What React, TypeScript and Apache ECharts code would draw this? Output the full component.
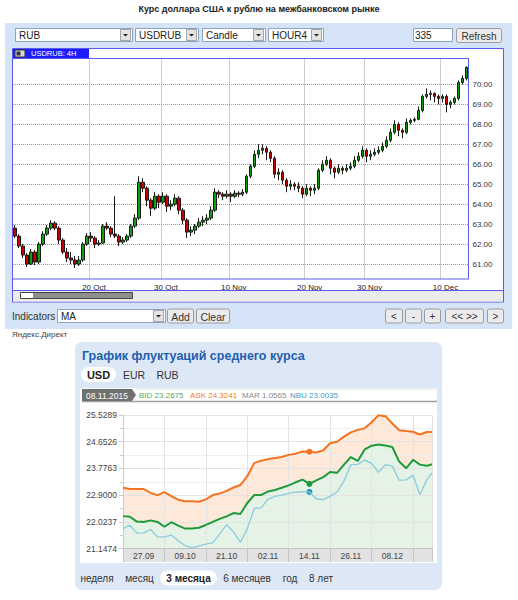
import React, { useEffect, useRef } from 'react';
import * as echarts from 'echarts';

// ---------- Top chart: USDRUB 4H candles ----------
const candleOpen = [
  62.8, 62.4, 61.9, 61.45, 61.0, 61.6, 61.1, 62.0, 62.5, 62.8,
  63.05, 62.8, 62.2, 61.6, 61.3, 61.2, 61.0, 61.2, 62.0, 62.4,
  62.3, 62.0, 62.05, 62.9, 62.8, 62.5, 62.4, 62.1, 62.2, 62.4,
  62.9, 63.3, 65.1, 64.8, 64.2, 63.8, 64.4, 64.1, 64.4, 63.9,
  64.0, 64.3, 63.7, 63.2, 62.6, 62.7, 62.9, 63.1, 63.2, 63.3,
  63.7, 64.6, 64.5, 64.4, 64.5, 64.4, 64.55, 64.5, 64.6, 65.4,
  65.9, 66.5, 66.7, 66.8, 66.6, 66.3, 65.5, 65.6, 65.2, 64.9,
  65.0, 64.9, 64.8, 64.5, 64.8, 64.7, 64.8, 65.7, 66.0, 66.2,
  65.8, 65.6, 65.8, 65.7, 65.8, 65.9, 66.2, 66.4, 66.7, 66.4,
  66.5, 66.6, 66.7, 66.9, 67.2, 67.6, 68.0, 67.7, 67.6, 68.1,
  68.2, 68.25, 68.7, 69.4, 69.5, 69.55, 69.4, 69.3, 69.4, 69.0,
  69.1, 69.3, 70.1, 70.3,
];
const candleClose = [
  62.4, 61.9, 61.45, 61.0, 61.6, 61.1, 62.0, 62.5, 62.8, 63.05,
  62.8, 62.2, 61.6, 61.3, 61.2, 61.0, 61.2, 62.0, 62.4, 62.3,
  62.0, 62.05, 62.9, 62.8, 62.5, 62.4, 62.1, 62.2, 62.4, 62.9,
  63.3, 65.1, 64.8, 64.2, 63.8, 64.4, 64.1, 64.4, 63.9, 64.0,
  64.3, 63.7, 63.2, 62.6, 62.7, 62.9, 63.1, 63.2, 63.3, 63.7,
  64.6, 64.5, 64.4, 64.5, 64.4, 64.55, 64.5, 64.6, 65.4, 65.9,
  66.5, 66.7, 66.8, 66.6, 66.3, 65.5, 65.6, 65.2, 64.9, 65.0,
  64.9, 64.8, 64.5, 64.8, 64.7, 64.8, 65.7, 66.0, 66.2, 65.8,
  65.6, 65.8, 65.7, 65.8, 65.9, 66.2, 66.4, 66.7, 66.4, 66.5,
  66.6, 66.7, 66.9, 67.2, 67.6, 68.0, 67.7, 67.6, 68.1, 68.2,
  68.25, 68.7, 69.4, 69.5, 69.55, 69.4, 69.3, 69.4, 69.0, 69.1,
  69.3, 70.1, 70.3, 70.86,
];
const candleHigh = [
  62.95, 62.5, 62.0, 61.55, 61.75, 61.7, 62.1, 62.65, 62.95, 63.2,
  63.15, 62.9, 62.3, 61.8, 61.6, 61.4, 61.4, 62.1, 62.55, 62.6,
  62.4, 62.2, 63.0, 63.1, 62.9, 64.4, 62.5, 62.35, 62.5, 63.0,
  63.5, 65.4, 65.3, 64.9, 64.3, 64.6, 64.5, 64.6, 64.5, 64.2,
  64.5, 64.4, 63.8, 63.3, 62.9, 63.0, 63.3, 63.4, 63.5, 63.9,
  64.8, 64.7, 64.6, 64.7, 64.6, 64.7, 64.65, 64.75, 65.5, 66.0,
  66.7, 67.0, 67.0, 66.9, 66.7, 66.4, 65.8, 65.7, 65.3, 65.2,
  65.1, 65.1, 64.9, 65.0, 64.9, 65.0, 65.8, 66.2, 66.4, 66.3,
  65.9, 66.0, 65.9, 66.0, 66.1, 66.4, 66.6, 66.9, 66.8, 66.7,
  66.8, 66.9, 67.1, 67.4, 67.8, 68.2, 68.1, 67.8, 68.3, 68.3,
  68.35, 68.9, 69.5, 69.8, 69.7, 69.6, 69.5, 69.5, 69.5, 69.2,
  69.4, 70.2, 70.45, 70.9,
];
const candleLow = [
  62.3, 61.8, 61.3, 60.85, 60.95, 60.95, 61.0, 61.9, 62.4, 62.7,
  62.7, 62.0, 61.5, 61.1, 61.0, 60.8, 60.9, 61.1, 61.9, 62.1,
  61.8, 61.9, 62.0, 62.7, 62.35, 62.3, 61.9, 62.0, 62.1, 62.3,
  62.8, 63.2, 64.6, 63.9, 63.4, 63.7, 63.8, 64.0, 63.6, 63.7,
  63.9, 63.5, 63.0, 62.3, 62.4, 62.5, 62.8, 62.9, 63.0, 63.2,
  63.6, 64.3, 64.2, 64.3, 64.1, 64.3, 64.35, 64.4, 64.5, 65.3,
  65.8, 66.3, 66.5, 66.2, 66.1, 65.3, 65.2, 65.0, 64.6, 64.7,
  64.7, 64.6, 64.3, 64.4, 64.4, 64.5, 64.7, 65.6, 65.9, 65.5,
  65.3, 65.5, 65.5, 65.6, 65.7, 65.8, 66.1, 66.3, 66.1, 66.2,
  66.4, 66.5, 66.6, 66.8, 67.1, 67.5, 67.4, 67.3, 67.5, 68.0,
  68.1, 68.2, 68.6, 69.3, 69.2, 69.1, 69.0, 69.1, 68.6, 68.8,
  69.0, 69.2, 70.0, 70.2,
];
const candleDateLabels = ['20 Oct', '30 Oct', '10 Nov', '20 Nov', '30 Nov', '10 Dec'];
const candleDateIndex = [19, 37, 54, 73, 88, 107];
const candleYTicks = [61, 62, 63, 64, 65, 66, 67, 68, 69, 70];
const lastPrice = 70.86;

// ---------- Bottom chart: fluctuation of average rate ----------
const fluctDays = [0, 2, 4, 6, 8, 10, 12, 14, 16, 18, 20, 22, 24, 26, 28, 30, 32, 34, 36, 38,
  40, 42, 44, 46, 48, 50, 52, 54, 56, 58, 60, 62, 64, 66, 68, 70, 72, 74, 76, 78,
  80, 82, 84, 86, 88, 89.5];
const askRates = [
  23.14, 23.10, 23.10, 23.10, 22.97, 22.90, 23.00, 22.87, 22.75, 22.70,
  22.70, 22.68, 22.76, 22.90, 22.95, 23.04, 23.15, 23.23, 23.52, 23.95,
  24.03, 24.08, 24.12, 24.15, 24.22, 24.26, 24.33, 24.3241, 24.30, 24.37,
  24.60, 24.65, 24.82, 24.96, 25.04, 25.09, 25.29, 25.52, 25.49, 25.25,
  25.03, 25.00, 24.98, 24.89, 24.97, 24.97,
];
const bidRates = [
  22.21, 22.19, 22.03, 22.02, 22.07, 22.02, 21.86, 22.01, 21.90, 21.80,
  21.80, 21.83, 21.92, 22.02, 22.12, 22.20, 22.31, 22.28, 22.64, 22.90,
  22.90, 23.02, 23.07, 23.14, 23.22, 23.32, 23.41, 23.2675, 23.38, 23.49,
  23.66, 23.63, 23.90, 24.15, 24.02, 24.40, 24.52, 24.56, 24.53, 24.48,
  24.00, 23.78, 24.06, 23.90, 23.86, 23.91,
];
const nbuRates = [
  21.80, 21.91, 21.65, 21.66, 21.77, 21.53, 21.53, 21.59, 21.40, 21.24,
  21.17, 21.23, 21.29, 21.33, 21.62, 21.93, 21.69, 21.35, 21.80, 22.46,
  22.48, 22.77, 22.86, 22.90, 22.96, 23.00, 23.01, 23.0035, 22.78, 22.75,
  22.86, 23.00, 23.36, 23.90, 23.91, 24.05, 23.94, 23.65, 23.90, 23.85,
  23.39, 23.40, 23.55, 22.92, 23.40, 23.63,
];
const fluctYMin = 21.1474;
const fluctYMax = 25.5289;
const fluctYStep = 0.8763;
const fluctXLabels = ['27.09', '09.10', '21.10', '02.11', '14.11', '26.11', '08.12'];
const fluctXLabelDays = [6, 18, 30, 42, 54, 66, 78];
const markerIndex = 27;
const markerDate = '08.11.2015';
const marRate = '1.0565';

const FONT = 'Liberation Sans';

function txt(text: string, x: number, y: number, o: any = {}) {
  const align = o.align || 'left';
  return {
    type: 'text', x, y, z: o.z ?? 10, silent: true,
    style: {
      text, fill: o.fill || '#222', fontSize: o.size || 10, fontFamily: o.family || FONT,
      fontWeight: o.weight || 'normal', align, verticalAlign: 'middle',
      textAlign: align, textVerticalAlign: 'middle',
    },
  };
}
function rect(x: number, y: number, w: number, h: number, fill: string, stroke?: string, o: any = {}) {
  return {
    type: 'rect', z: o.z ?? 2, silent: true,
    shape: { x, y, width: w, height: h, r: o.r || 0 },
    style: { fill, stroke: stroke || null, lineWidth: o.lw || 1 },
  };
}
function line(x1: number, y1: number, x2: number, y2: number, stroke: string, o: any = {}) {
  return {
    type: 'line', z: o.z ?? 3, silent: true,
    shape: { x1, y1, x2, y2 },
    style: { stroke, lineWidth: o.lw || 1 },
  };
}
function selectBox(x: number, y: number, w: number, h: number, text: string) {
  const ax = x + w - 12;
  const cy = y + h / 2;
  return [
    rect(x + 0.5, y + 0.5, w, h, '#ffffff', '#8ea3bf'),
    rect(ax + 0.5, y + 1.5, 10, h - 2, '#e3e3e3', '#a6a6a6', { z: 3 }),
    { type: 'polygon', z: 4, silent: true, shape: { points: [[ax + 3, cy - 0.5], [ax + 8, cy - 0.5], [ax + 5.5, cy + 2]] }, style: { fill: '#222' } },
    txt(text, x + 4, cy + 1, { size: 10 }),
  ];
}
function button(x: number, y: number, w: number, h: number, text: string, size = 10) {
  return [
    rect(x + 0.5, y + 0.5, w, h, '#ebebeb', '#9c9c9c', { r: 2 }),
    txt(text, x + w / 2 + 0.5, y + h / 2 + 1, { align: 'center', size, fill: '#333' }),
  ];
}

export default function App() {
  const ref = useRef<HTMLDivElement>(null);
  useEffect(() => {
    if (!ref.current) return;
    const chart = echarts.init(ref.current, null, { renderer: 'svg' });
    const cats = candleOpen.map((_, i) => String(i));
    const showIdx = (i: number) => candleDateIndex.indexOf(i) >= 0;

    const graphics: any[] = [
      // top title
      txt('Курс доллара США к рублю на межбанковском рынке', 259, 8.5, { align: 'center', size: 9, weight: 'bold', fill: '#222' }),
      // top panel
      rect(5, 23, 507, 306, '#d5e3f6', undefined, { z: 0 }),
      ...selectBox(15, 28, 117, 13, 'RUB'),
      ...selectBox(135, 28, 63, 13, 'USDRUB'),
      ...selectBox(202, 28, 63, 13, 'Candle'),
      ...selectBox(268, 28, 55, 13, 'HOUR4'),
      rect(413.5, 28.5, 39, 13, '#ffffff', '#8ea3bf'),
      txt('335', 415, 35.5, { size: 10 }),
      ...button(456, 28, 45, 14, 'Refresh'),
      // chart frame
      rect(12.5, 48.5, 491, 253.5, '#ffffff', '#5a5af2', { z: 1 }),
      rect(13, 49, 76, 9, '#1c1cff', undefined, { z: 10 }),
      rect(15, 50, 10, 7, '#d8d8d8', '#333', { z: 11 }),
      rect(16.5, 51.5, 4, 4, '#333', undefined, { z: 12 }),
      txt('USDRUB: 4H', 31, 53.8, { size: 7.5, fill: '#ffffff', z: 12 }),
      { type: 'rect', z: 10, silent: true, shape: { x: 12.5, y: 58.5, width: 456, height: 220.5 }, style: { fill: null, stroke: '#5a5af2', lineWidth: 1 } },
      line(12.5, 290.5, 503.5, 290.5, '#5a5af2', { z: 10 }),
      rect(13, 291, 490, 10.5, '#ebebeb', undefined, { z: 2 }),
      rect(20.5, 292.5, 112, 6, '#8e8e8e', '#444', { z: 3 }),
      rect(21, 293, 12, 5, '#ffffff', undefined, { z: 4 }),
      // indicators row
      txt('Indicators', 12, 316, { size: 10, fill: '#333' }),
      ...selectBox(57, 309, 108, 13, 'MA'),
      ...button(167, 308.5, 26, 14, 'Add', 10.5),
      ...button(196, 308.5, 33, 14, 'Clear', 10.5),
      ...button(385, 308.5, 17, 14, '<'),
      ...button(405, 308.5, 16, 14, '-'),
      ...button(424, 308.5, 16, 14, '+'),
      ...button(445, 308.5, 38, 14, '<< >>'),
      ...button(487, 308.5, 16, 14, '>'),
      txt('Яндекс.Директ', 12, 334, { size: 8, fill: '#444' }),
      // bottom widget
      rect(75, 342, 367, 248, '#dde8f6', undefined, { z: 0, r: 7 }),
      txt('График флуктуаций среднего курса', 82, 355.5, { size: 12.5, weight: 'bold', fill: '#1d5eae' }),
      rect(81, 367, 35, 15, '#ffffff', undefined, { r: 7.5 }),
      txt('USD', 98.5, 375, { align: 'center', size: 11, weight: 'bold', fill: '#222' }),
      txt('EUR', 134, 375, { align: 'center', size: 10.5, fill: '#333' }),
      txt('RUB', 167.5, 375, { align: 'center', size: 10.5, fill: '#333' }),
      rect(80, 388, 357, 175, '#ffffff', undefined, { z: 1 }),
      line(136, 389, 437, 389, '#dddddd'),
      line(82, 401.5, 437, 401.5, '#a0a0a0', { lw: 1.5 }),
      { type: 'polygon', z: 4, silent: true, shape: { points: [[82, 389], [132, 389], [136, 395], [132, 401], [82, 401]] }, style: { fill: '#707070' } },
      txt(markerDate, 107, 395.5, { align: 'center', size: 8.5, fill: '#ffffff' }),
      txt('BID ' + bidRates[markerIndex].toFixed(4), 139, 395.5, { size: 8, fill: '#5aa85a' }),
      txt('ASK ' + askRates[markerIndex].toFixed(4), 190, 395.5, { size: 8, fill: '#f27a2c' }),
      txt('MAR ' + marRate, 242, 395.5, { size: 8, fill: '#8a8a8a' }),
      txt('NBU ' + nbuRates[markerIndex].toFixed(4), 290, 395.5, { size: 8, fill: '#3aa2cc' }),
      rect(123, 548.5, 309, 13.5, '#e2e2e2', undefined, { z: 2 }),
      txt('неделя', 97, 578.5, { align: 'center', size: 10, fill: '#333' }),
      txt('месяц', 139.5, 578.5, { align: 'center', size: 10, fill: '#333' }),
      rect(160, 570.5, 57, 15, '#ffffff', undefined, { r: 7.5 }),
      txt('3 месяца', 188.5, 578.5, { align: 'center', size: 10, weight: 'bold', fill: '#222' }),
      txt('6 месяцев', 247, 578.5, { align: 'center', size: 10, fill: '#333' }),
      txt('год', 290, 578.5, { align: 'center', size: 10, fill: '#333' }),
      txt('8 лет', 321, 578.5, { align: 'center', size: 10, fill: '#333' }),
    ];

    const pairs = (arr: number[]) => arr.map((v, i) => [fluctDays[i], v]);

    chart.setOption({
      animation: false,
      textStyle: { fontFamily: FONT },
      grid: [
        { left: 13, top: 58.5, width: 455.5, height: 220.5, show: false },
        { left: 123, top: 415, width: 309, height: 133.5, show: false },
      ],
      xAxis: [
        {
          type: 'category', gridIndex: 0, data: cats, boundaryGap: true, z: 5,
          axisLine: { show: false }, axisTick: { show: false },
          axisLabel: {
            interval: (i: number) => showIdx(i),
            formatter: (_v: string, i: number) => candleDateLabels[candleDateIndex.indexOf(i)] || '',
            fontSize: 8, color: '#222', margin: 4, padding: [0, 0, 0, 6],
          },
          splitLine: { show: true, interval: (i: number) => showIdx(i), lineStyle: { type: 'dotted', color: '#9a9a9a' } },
        },
        {
          type: 'value', gridIndex: 1, min: 0, max: fluctDays[fluctDays.length - 1], interval: 12, z: 4,
          axisLine: { show: true, lineStyle: { color: '#c4c4c4' } },
          axisTick: { show: true, length: 13.5, lineStyle: { color: '#c6c6c6' } },
          axisLabel: {
            customValues: fluctXLabelDays,
            formatter: (v: number) => fluctXLabels[fluctXLabelDays.indexOf(v)] || '',
            fontSize: 8.5, color: '#444', margin: 3,
          },
          splitLine: { show: true, lineStyle: { color: '#e3e3e3' } },
        },
      ],
      yAxis: [
        {
          type: 'value', gridIndex: 0, position: 'right', min: 60.25, max: 71.3, splitNumber: 11,
          minInterval: 1, maxInterval: 1, z: 5,
          axisLine: { show: false },
          axisTick: { show: false, customValues: candleYTicks },
          axisLabel: { customValues: candleYTicks, formatter: (v: number) => v.toFixed(2), fontSize: 8, color: '#333', margin: 4 },
          splitLine: { show: true, lineStyle: { type: 'dotted', color: '#9a9a9a' } },
        },
        {
          type: 'value', gridIndex: 1, min: fluctYMin, max: fluctYMax, interval: fluctYStep, z: 4,
          axisLine: { show: true, lineStyle: { color: '#cccccc' } },
          axisTick: { show: true, length: 4, lineStyle: { color: '#cccccc' } },
          minorTick: { show: true, splitNumber: 2, length: 3, lineStyle: { color: '#cccccc' } },
          minorSplitLine: { show: true, lineStyle: { color: '#efefef' } },
          axisLabel: { formatter: (v: number) => v.toFixed(4), fontSize: 8.5, color: '#444', margin: 6 },
          splitLine: { show: true, lineStyle: { color: '#e3e3e3' } },
        },
      ],
      series: [
        {
          type: 'candlestick', xAxisIndex: 0, yAxisIndex: 0, z: 6, silent: true,
          barWidth: 3,
          data: candleOpen.map((o, i) => [o, candleClose[i], candleLow[i], candleHigh[i]]),
          itemStyle: { color: '#12a012', color0: '#cc0000', borderColor: '#1a1a1a', borderColor0: '#1a1a1a', borderWidth: 1 },
          markLine: {
            silent: true, symbol: ['none', 'none'],
            lineStyle: { opacity: 0 },
            label: {
              show: true, position: 'end', formatter: lastPrice.toFixed(2), distance: 2,
              backgroundColor: '#8d8d8d', color: '#ffffff', fontSize: 8, padding: [1, 4, 0, 4],
            },
            data: [{ yAxis: lastPrice }],
          },
        },
        {
          type: 'line', xAxisIndex: 1, yAxisIndex: 1, z: 2, silent: true, symbol: 'none',
          data: pairs(askRates), lineStyle: { width: 0 },
          areaStyle: { color: '#fde8da', opacity: 1, origin: 'start' },
        },
        {
          type: 'line', xAxisIndex: 1, yAxisIndex: 1, z: 3, silent: true, symbol: 'none',
          data: pairs(bidRates), lineStyle: { width: 0 },
          areaStyle: { color: '#e4f3e6', opacity: 1, origin: 'start' },
        },
        {
          type: 'line', xAxisIndex: 1, yAxisIndex: 1, z: 5, silent: true, symbol: 'none',
          data: pairs(nbuRates), lineStyle: { width: 1.3, color: '#8ccbdc' },
          markPoint: { symbol: 'circle', symbolSize: 6, itemStyle: { color: '#1f8fc6' }, label: { show: false }, data: [{ coord: [fluctDays[markerIndex], nbuRates[markerIndex]] }] },
        },
        {
          type: 'line', xAxisIndex: 1, yAxisIndex: 1, z: 6, silent: true, symbol: 'none',
          data: pairs(bidRates), lineStyle: { width: 2, color: '#1f9a3b' },
          markPoint: { symbol: 'circle', symbolSize: 6, itemStyle: { color: '#1f9a3b' }, label: { show: false }, data: [{ coord: [fluctDays[markerIndex], bidRates[markerIndex]] }] },
        },
        {
          type: 'line', xAxisIndex: 1, yAxisIndex: 1, z: 7, silent: true, symbol: 'none',
          data: pairs(askRates), lineStyle: { width: 2, color: '#f4731f' },
          markPoint: { symbol: 'circle', symbolSize: 6, itemStyle: { color: '#f4731f' }, label: { show: false }, data: [{ coord: [fluctDays[markerIndex], askRates[markerIndex]] }] },
        },
      ],
      graphic: graphics,
    });
    return () => chart.dispose();
  }, []);
  return (
    <div style={{ position: 'absolute', left: 0, top: 0, width: 518, height: 600, background: '#ffffff' }}>
      <div ref={ref} style={{ width: 518, height: 600 }} />
    </div>
  );
}
